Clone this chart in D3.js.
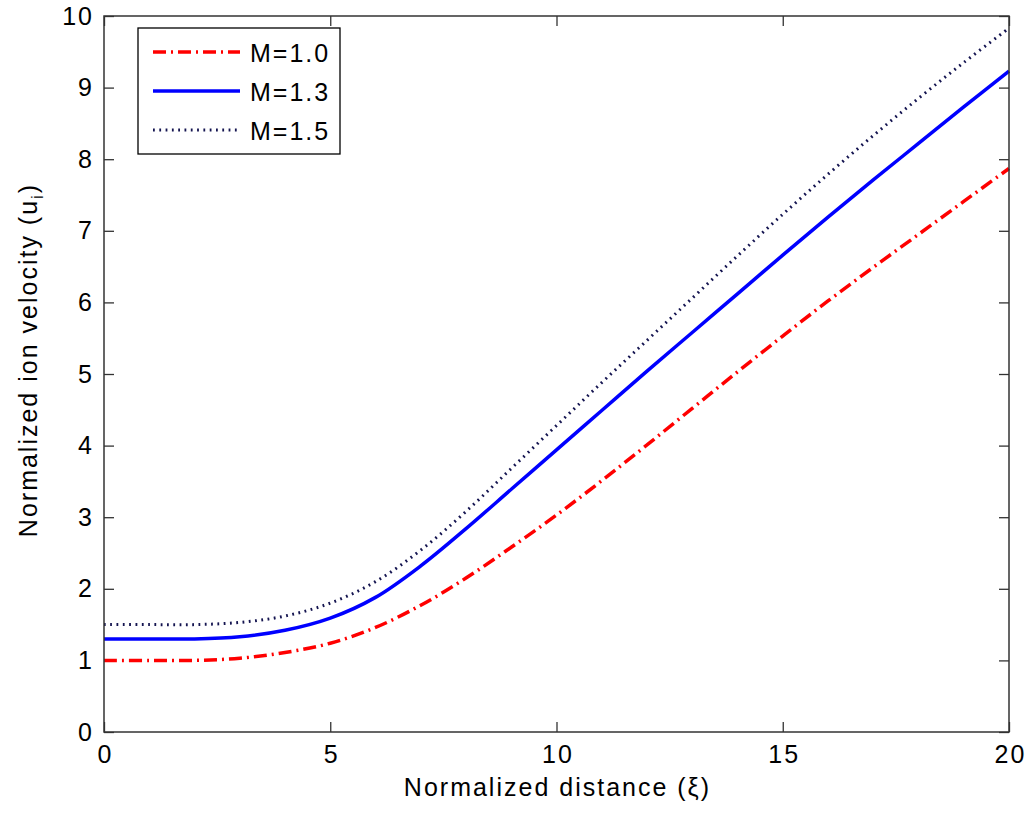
<!DOCTYPE html>
<html>
<head>
<meta charset="utf-8">
<script src="https://cdn.jsdelivr.net/npm/d3@7"></script>
<style>
  body { margin: 0; background: #fff; }
  text { font-family: "Liberation Sans", Arial, sans-serif; fill: #000; letter-spacing: 2px; }
</style>
</head>
<body>
<svg id="chart" width="1029" height="814"></svg>
<script>
// normalized distance samples
var xi = [0, 1, 2, 3, 4, 5, 6, 7, 8, 9, 10, 11, 12, 13, 14, 15, 16, 17, 18, 19, 20];
// ion velocity for each Mach number
var uM10 = [1.00, 1.00, 1.00, 1.03, 1.11, 1.24, 1.46, 1.77, 2.15, 2.58, 3.03, 3.51, 4.01, 4.52, 5.03, 5.53, 6.02, 6.49, 6.95, 7.41, 7.87];
var uM13 = [1.30, 1.30, 1.30, 1.33, 1.42, 1.59, 1.88, 2.32, 2.84, 3.39, 3.94, 4.49, 5.04, 5.58, 6.12, 6.66, 7.19, 7.71, 8.22, 8.73, 9.23];
var uM15 = [1.50, 1.50, 1.50, 1.53, 1.62, 1.80, 2.10, 2.54, 3.08, 3.68, 4.28, 4.88, 5.47, 6.06, 6.65, 7.23, 7.79, 8.33, 8.85, 9.35, 9.83];
var seriesNames = ['M=1.0', 'M=1.3', 'M=1.5'];
var xTicks = [0, 5, 10, 15, 20];
var yTicks = [0, 1, 2, 3, 4, 5, 6, 7, 8, 9, 10];

var svg = d3.select('#chart');
var pLeft = 104, pRight = 1009, pTop = 16, pBottom = 732;

var x = d3.scaleLinear().domain([0, 20]).range([pLeft, pRight]);
var y = d3.scaleLinear().domain([0, 10]).range([pBottom, pTop]);

var styles = [
    {color: '#ff0000', width: 3.5, dash: '13,5,2,5'},
    {color: '#0000ff', width: 3.5, dash: null},
    {color: '#141450', width: 3, dash: '1.8,4.5'}
];
var series = [uM10, uM13, uM15];

// axes, ticks pointing inward
var axisColor = '#333';
var gB = svg.append('g').attr('transform', 'translate(0,' + pBottom + ')')
    .call(d3.axisBottom(x).tickValues(xTicks).tickSizeInner(-10).tickSizeOuter(0).tickPadding(13));
var gT = svg.append('g').attr('transform', 'translate(0,' + pTop + ')')
    .call(d3.axisTop(x).tickValues(xTicks).tickSizeInner(-10).tickSizeOuter(0).tickFormat(''));
var gL = svg.append('g').attr('transform', 'translate(' + pLeft + ',0)')
    .call(d3.axisLeft(y).tickValues(yTicks).tickSizeInner(-10).tickSizeOuter(0).tickPadding(10));
var gR = svg.append('g').attr('transform', 'translate(' + pRight + ',0)')
    .call(d3.axisRight(y).tickValues(yTicks).tickSizeInner(-10).tickSizeOuter(0).tickFormat(''));

[gB, gT, gL, gR].forEach(function (g) {
    g.select('.domain').remove();
    g.selectAll('.tick line').attr('stroke', axisColor).attr('stroke-width', 1.3);
    g.selectAll('.tick text').attr('font-size', 25).attr('fill', '#000')
        .attr('font-family', '"Liberation Sans", Arial, sans-serif');
});
gB.selectAll('.tick text').attr('dx', 1);

// plot lines
var line = d3.line()
    .x(function (d, i) { return x(xi[i]); })
    .y(function (d) { return y(d); })
    .curve(d3.curveCatmullRom.alpha(0.5));

series.forEach(function (s, k) {
    svg.append('path')
        .datum(s)
        .attr('d', line)
        .attr('fill', 'none')
        .attr('stroke', styles[k].color)
        .attr('stroke-width', styles[k].width)
        .attr('stroke-dasharray', styles[k].dash);
});

// frame
svg.append('rect')
    .attr('x', pLeft).attr('y', pTop)
    .attr('width', pRight - pLeft).attr('height', pBottom - pTop)
    .attr('fill', 'none').attr('stroke', axisColor).attr('stroke-width', 1.5);

// legend
var lg = svg.append('g');
lg.append('rect')
    .attr('x', 138).attr('y', 28).attr('width', 202).attr('height', 126)
    .attr('fill', '#fff').attr('stroke', '#000').attr('stroke-width', 1.3);
seriesNames.forEach(function (name, k) {
    var ly = 52 + k * 39;
    lg.append('line')
        .attr('x1', 153).attr('x2', 240).attr('y1', ly).attr('y2', ly)
        .attr('stroke', styles[k].color)
        .attr('stroke-width', styles[k].width)
        .attr('stroke-dasharray', styles[k].dash);
    lg.append('text')
        .attr('x', 250).attr('y', ly + 10)
        .attr('font-size', 25)
        .text(name);
});

// axis labels
svg.append('text')
    .attr('x', (pLeft + pRight) / 2 + 1).attr('y', 796)
    .attr('text-anchor', 'middle')
    .attr('font-size', 25)
    .text('Normalized distance (ξ)');

var yl = svg.append('text')
    .attr('transform', 'translate(37,360) rotate(-90)')
    .attr('text-anchor', 'middle')
    .attr('font-size', 25);
yl.append('tspan').text('Normalized ion velocity (u');
yl.append('tspan').attr('font-size', 17).attr('dy', 6).text('i');
yl.append('tspan').attr('dy', -6).text(')');
</script>
</body>
</html>
